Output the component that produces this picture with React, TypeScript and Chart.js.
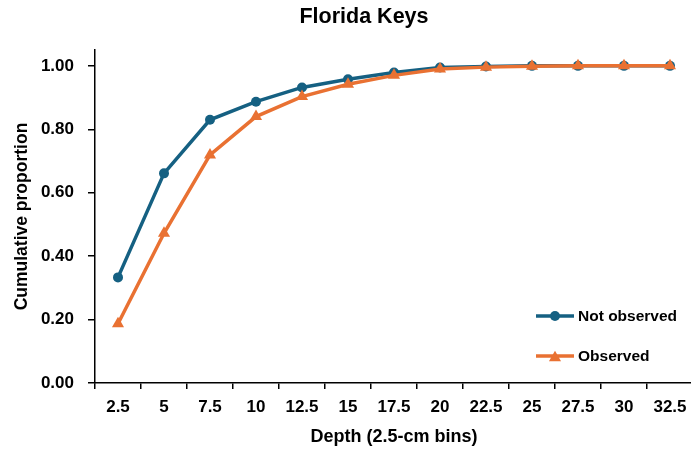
import React, { useEffect, useRef } from "react";
import { Chart, registerables } from "chart.js";

Chart.register(...registerables);

const TITLE = "Florida Keys";
const X_TITLE = "Depth (2.5-cm bins)";
const Y_TITLE = "Cumulative proportion";

const depthBins = ["2.5", "5", "7.5", "10", "12.5", "15", "17.5", "20", "22.5", "25", "27.5", "30", "32.5"];
const notObserved = [0.333, 0.661, 0.83, 0.887, 0.932, 0.958, 0.979, 0.995, 0.998, 1.0, 1.0, 1.0, 1.0];
const observed = [0.187, 0.472, 0.719, 0.84, 0.903, 0.942, 0.97, 0.99, 0.996, 0.999, 1.0, 1.0, 1.0];

const seriesNames = ["Not observed", "Observed"];
const BLUE = "#156082";
const ORANGE = "#E97132";
const FONT = "'Liberation Sans', Arial, sans-serif";

const titlePlugin = {
  id: "customTitle",
  afterDraw(chart: any) {
    const ctx = chart.ctx;
    ctx.save();
    ctx.fillStyle = "#000";
    ctx.font = `bold 21.5px ${FONT}`;
    ctx.textAlign = "center";
    ctx.textBaseline = "middle";
    ctx.fillText(TITLE, 364, 17.5);
    ctx.restore();
  },
};

const legendPlugin = {
  id: "insideLegend",
  afterDraw(chart: any) {
    const ctx = chart.ctx;
    const items = [
      { label: seriesNames[0], color: BLUE, style: "circle" },
      { label: seriesNames[1], color: ORANGE, style: "triangle" },
    ];
    const x0 = 536;
    const rows = [316, 356];
    ctx.save();
    items.forEach((it, i) => {
      const y = rows[i];
      ctx.strokeStyle = it.color;
      ctx.lineWidth = 3.5;
      ctx.lineCap = "butt";
      ctx.beginPath();
      ctx.moveTo(x0, y);
      ctx.lineTo(x0 + 38, y);
      ctx.stroke();
      ctx.fillStyle = it.color;
      const cx = x0 + 19;
      ctx.beginPath();
      if (it.style === "circle") {
        ctx.arc(cx, y, 5, 0, Math.PI * 2);
      } else {
        const r = 7;
        const cy = y + r / 4;
        ctx.moveTo(cx, cy - r);
        ctx.lineTo(cx + r * Math.sin(Math.PI * 2 / 3), cy + r / 2);
        ctx.lineTo(cx - r * Math.sin(Math.PI * 2 / 3), cy + r / 2);
        ctx.closePath();
      }
      ctx.fill();
      ctx.fillStyle = "#000";
      ctx.font = `bold 15.5px ${FONT}`;
      ctx.textAlign = "left";
      ctx.textBaseline = "middle";
      ctx.fillText(it.label, x0 + 42, y + 1);
    });
    ctx.restore();
  },
};

export default function App() {
  const ref = useRef<HTMLCanvasElement | null>(null);
  useEffect(() => {
    if (!ref.current) return;
    const chart = new Chart(ref.current, {
      type: "line",
      data: {
        labels: depthBins,
        datasets: [
          {
            label: seriesNames[0],
            data: notObserved,
            borderColor: BLUE,
            backgroundColor: BLUE,
            borderWidth: 3.5,
            pointStyle: "circle",
            pointRadius: 5,
            pointBorderWidth: 0,
            order: 2,
          },
          {
            label: seriesNames[1],
            data: observed,
            borderColor: ORANGE,
            backgroundColor: ORANGE,
            borderWidth: 3.5,
            pointStyle: "triangle",
            pointRadius: 7,
            pointBorderWidth: 0,
            order: 1,
          },
        ],
      },
      options: {
        responsive: false,
        animation: false,
        layout: { padding: { left: 0, right: 5, top: 50, bottom: 0 } },
        plugins: {
          legend: { display: false },
          tooltip: { enabled: false },
          title: { display: false },
        },
        scales: {
          x: {
            type: "category",
            offset: true,
            grid: {
              display: true,
              drawOnChartArea: false,
              drawTicks: true,
              tickLength: 6,
              color: "#000",
              lineWidth: 1.5,
              offset: true,
            },
            border: { display: true, color: "#000", width: 1.5 },
            ticks: {
              color: "#000",
              font: { family: FONT, size: 17, weight: "bold" },
              padding: 8.5,
              maxRotation: 0,
              autoSkip: false,
            },
            title: {
              display: true,
              text: X_TITLE,
              color: "#000",
              font: { family: FONT, size: 18, weight: "bold" },
              padding: { top: 0, bottom: 3.5 },
            },
            afterFit(scale: any) {
              scale.height = 68;
            },
          },
          y: {
            min: 0,
            max: 1.05,
            grid: {
              display: true,
              drawOnChartArea: false,
              drawTicks: true,
              tickLength: 7,
              color: "#000",
              lineWidth: 1.5,
            },
            border: { display: true, color: "#000", width: 1.5 },
            ticks: {
              stepSize: 0.2,
              includeBounds: false,
              color: "#000",
              font: { family: FONT, size: 17, weight: "bold" },
              padding: 14,
              callback: (v: any) => Number(v).toFixed(2),
            },
            title: {
              display: true,
              text: Y_TITLE,
              color: "#000",
              font: { family: FONT, size: 17.5, weight: "bold" },
              padding: { top: 12, bottom: 0 },
            },
            afterFit(scale: any) {
              scale.width = 95;
            },
          },
        },
      },
      plugins: [titlePlugin, legendPlugin],
    });
    return () => chart.destroy();
  }, []);
  return (
    <div
      style={{
        position: "fixed",
        left: 0,
        top: 0,
        width: 691,
        height: 451,
        overflow: "hidden",
        background: "#fff",
      }}
    >
      <canvas ref={ref} width={700} height={451} style={{ display: "block" }} />
    </div>
  );
}
